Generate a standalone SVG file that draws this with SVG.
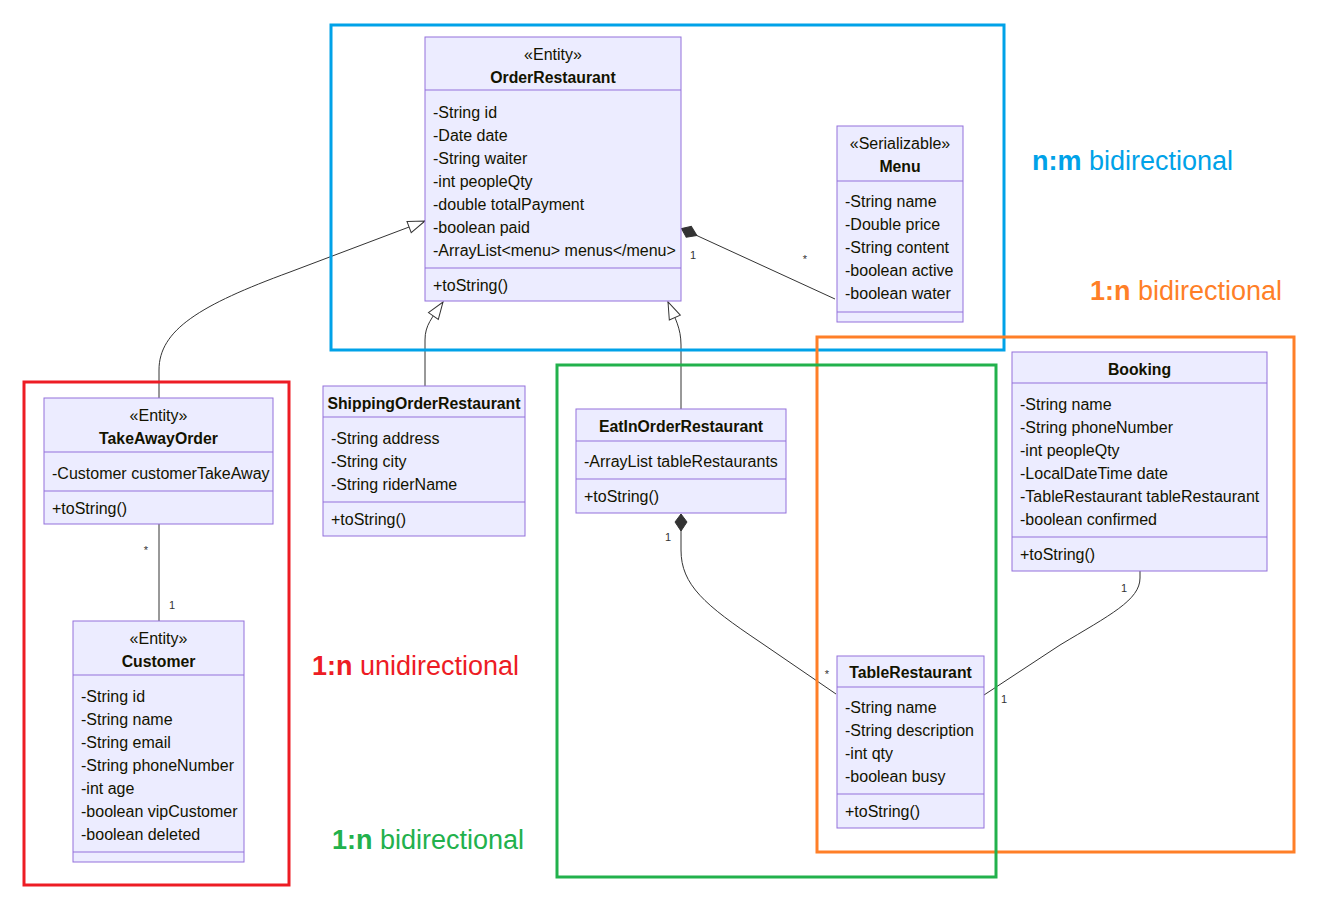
<svg xmlns="http://www.w3.org/2000/svg" width="1317" height="902" viewBox="0 0 1317 902">
<style>
.box{fill:#ECECFF;stroke:#9370DB;stroke-width:1}
.div{stroke:#9370DB;stroke-width:1}
.t{font-family:"Liberation Sans",Arial,sans-serif;font-size:16px;fill:#131300}
.c{text-anchor:middle}
.b{font-weight:bold;font-size:15.8px}
.edge{fill:none;stroke:#333;stroke-width:1}
.card{font-family:"Liberation Sans",Arial,sans-serif;font-size:11px;fill:#333;text-anchor:middle}
.frame{fill:none;stroke-width:3}
.lbl{font-family:"Liberation Sans",Arial,sans-serif;font-size:27px}
</style>
<defs>
<marker id="ext" markerUnits="userSpaceOnUse" markerWidth="20" markerHeight="16" refX="18" refY="7" orient="auto" viewBox="0 0 20 14">
<path d="M1,1 L18,7 L1,13 Z" fill="#fff" stroke="#333" stroke-width="1"/>
</marker>
<marker id="comp" markerUnits="userSpaceOnUse" markerWidth="20" markerHeight="16" refX="1" refY="7" orient="auto" viewBox="0 0 20 14">
<path d="M18,7 L9,13 L1,7 L9,1 Z" fill="#333" stroke="#333" stroke-width="1"/>
</marker>
</defs>
<rect width="1317" height="902" fill="#fff"/>

<g id="connectors">
<path class="edge" d="M159,398 L159,370 C159,330 200,305 290,272 L425,221" marker-end="url(#ext)"/>
<path class="edge" d="M425,386 L425,340 C425,325 432,318 443,302" marker-end="url(#ext)"/>
<path class="edge" d="M681,409 L681,345 C681,328 675,318 668,302" marker-end="url(#ext)"/>
<path class="edge" d="M681.5,228.5 L835,299" marker-start="url(#comp)"/>
<path class="edge" d="M681,514 L681,550 C681,585 705,605 760,642 L836,694" marker-start="url(#comp)"/>
<path class="edge" d="M1140,571 L1140,578 C1140,600 1110,615 1060,645 L984,695"/>
<path class="edge" d="M159,524 L159,621"/>
<text class="card" x="693" y="259">1</text>
<text class="card" x="805" y="263">*</text>
<text class="card" x="146" y="554">*</text>
<text class="card" x="172" y="609">1</text>
<text class="card" x="668" y="541">1</text>
<text class="card" x="827" y="678">*</text>
<text class="card" x="1124" y="592">1</text>
<text class="card" x="1004" y="703">1</text>
</g>

<g id="OrderRestaurant">
<rect class="box" x="425" y="37" width="256" height="264"/>
<line class="div" x1="425" y1="90" x2="681" y2="90"/>
<line class="div" x1="425" y1="268" x2="681" y2="268"/>
<text class="t c" x="553" y="59.5">«Entity»</text>
<text class="t c b" x="553" y="82.5">OrderRestaurant</text>
<text class="t" x="433" y="117.5">-String id</text>
<text class="t" x="433" y="140.5">-Date date</text>
<text class="t" x="433" y="163.5">-String waiter</text>
<text class="t" x="433" y="186.5">-int peopleQty</text>
<text class="t" x="433" y="209.5">-double totalPayment</text>
<text class="t" x="433" y="232.5">-boolean paid</text>
<text class="t" x="433" y="255.5">-ArrayList&lt;menu&gt; menus&lt;/menu&gt;</text>
<text class="t" x="433" y="290.5">+toString()</text>
</g>

<g id="Menu">
<rect class="box" x="837" y="126" width="126" height="196"/>
<line class="div" x1="837" y1="181" x2="963" y2="181"/>
<line class="div" x1="837" y1="312" x2="963" y2="312"/>
<text class="t c" x="900" y="148.5">«Serializable»</text>
<text class="t c b" x="900" y="171.5">Menu</text>
<text class="t" x="845" y="206.5">-String name</text>
<text class="t" x="845" y="229.5">-Double price</text>
<text class="t" x="845" y="252.5">-String content</text>
<text class="t" x="845" y="275.5">-boolean active</text>
<text class="t" x="845" y="298.5">-boolean water</text>
</g>

<g id="TakeAwayOrder">
<rect class="box" x="44" y="398" width="229" height="126"/>
<line class="div" x1="44" y1="452" x2="273" y2="452"/>
<line class="div" x1="44" y1="491" x2="273" y2="491"/>
<text class="t c" x="158.5" y="420.5">«Entity»</text>
<text class="t c b" x="158.5" y="443.5">TakeAwayOrder</text>
<text class="t" x="52" y="478.5">-Customer customerTakeAway</text>
<text class="t" x="52" y="513.5">+toString()</text>
</g>

<g id="Customer">
<rect class="box" x="73" y="621" width="171" height="241"/>
<line class="div" x1="73" y1="675" x2="244" y2="675"/>
<line class="div" x1="73" y1="852" x2="244" y2="852"/>
<text class="t c" x="158.5" y="643.5">«Entity»</text>
<text class="t c b" x="158.5" y="666.5">Customer</text>
<text class="t" x="81" y="701.5">-String id</text>
<text class="t" x="81" y="724.5">-String name</text>
<text class="t" x="81" y="747.5">-String email</text>
<text class="t" x="81" y="770.5">-String phoneNumber</text>
<text class="t" x="81" y="793.5">-int age</text>
<text class="t" x="81" y="816.5">-boolean vipCustomer</text>
<text class="t" x="81" y="839.5">-boolean deleted</text>
</g>

<g id="ShippingOrderRestaurant">
<rect class="box" x="323" y="386" width="202" height="150"/>
<line class="div" x1="323" y1="417" x2="525" y2="417"/>
<line class="div" x1="323" y1="502" x2="525" y2="502"/>
<text class="t c b" x="424" y="408.5">ShippingOrderRestaurant</text>
<text class="t" x="331" y="443.5">-String address</text>
<text class="t" x="331" y="466.5">-String city</text>
<text class="t" x="331" y="489.5">-String riderName</text>
<text class="t" x="331" y="524.5">+toString()</text>
</g>

<g id="EatInOrderRestaurant">
<rect class="box" x="576" y="409" width="210" height="104"/>
<line class="div" x1="576" y1="441" x2="786" y2="441"/>
<line class="div" x1="576" y1="479" x2="786" y2="479"/>
<text class="t c b" x="681" y="431.5">EatInOrderRestaurant</text>
<text class="t" x="584" y="466.5">-ArrayList tableRestaurants</text>
<text class="t" x="584" y="501.5">+toString()</text>
</g>

<g id="TableRestaurant">
<rect class="box" x="837" y="656" width="147" height="172"/>
<line class="div" x1="837" y1="687" x2="984" y2="687"/>
<line class="div" x1="837" y1="794" x2="984" y2="794"/>
<text class="t c b" x="910.5" y="677.5">TableRestaurant</text>
<text class="t" x="845" y="712.5">-String name</text>
<text class="t" x="845" y="735.5">-String description</text>
<text class="t" x="845" y="758.5">-int qty</text>
<text class="t" x="845" y="781.5">-boolean busy</text>
<text class="t" x="845" y="816.5">+toString()</text>
</g>

<g id="Booking">
<rect class="box" x="1012" y="352" width="255" height="219"/>
<line class="div" x1="1012" y1="383" x2="1267" y2="383"/>
<line class="div" x1="1012" y1="537" x2="1267" y2="537"/>
<text class="t c b" x="1139.5" y="374.5">Booking</text>
<text class="t" x="1020" y="409.5">-String name</text>
<text class="t" x="1020" y="432.5">-String phoneNumber</text>
<text class="t" x="1020" y="455.5">-int peopleQty</text>
<text class="t" x="1020" y="478.5">-LocalDateTime date</text>
<text class="t" x="1020" y="501.5">-TableRestaurant tableRestaurant</text>
<text class="t" x="1020" y="524.5">-boolean confirmed</text>
<text class="t" x="1020" y="559.5">+toString()</text>
</g>

<g id="frames">
<rect class="frame" x="331" y="25" width="673" height="325" stroke="#00a2e8"/>
<rect class="frame" x="24" y="382" width="265" height="503" stroke="#ed1c24"/>
<rect class="frame" x="817" y="337" width="477" height="515" stroke="#ff7f27"/>
<rect class="frame" x="557" y="365" width="439" height="512" stroke="#22b14c"/>
</g>

<g id="labels">
<text class="lbl" x="1032" y="170" fill="#00a2e8"><tspan font-weight="bold">n:m</tspan> bidirectional</text>
<text class="lbl" x="1090" y="300" fill="#ff7f27"><tspan font-weight="bold">1:n</tspan> bidirectional</text>
<text class="lbl" x="312" y="675" fill="#ed1c24"><tspan font-weight="bold">1:n</tspan> unidirectional</text>
<text class="lbl" x="332" y="849" fill="#22b14c"><tspan font-weight="bold">1:n</tspan> bidirectional</text>
</g>
</svg>
